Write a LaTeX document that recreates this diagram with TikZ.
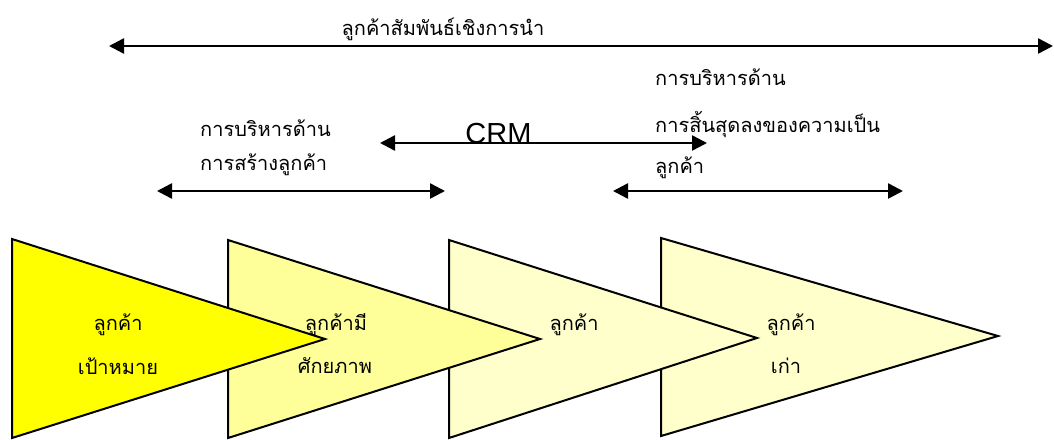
\documentclass[tikz,border=0pt]{standalone}
\usepackage{fontspec}
\setmainfont{Liberation Sans}
\newfontfamily\thaifont[Script=Thai]{Loma}
\usetikzlibrary{arrows.meta}
\definecolor{stageA}{HTML}{FFFF00}
\definecolor{stageB}{HTML}{FFFF99}
\definecolor{stageC}{HTML}{FFFFCC}
\begin{document}
\begin{tikzpicture}[x=1pt,y=-1pt,
  span/.style={line width=2.5pt,
    {Triangle[length=15pt,width=15pt]}-{Triangle[length=15pt,width=15pt]}},
  stage/.style={draw=black, line width=2pt, line join=miter},
  thai/.style={font=\thaifont\fontsize{20}{24}\selectfont, inner sep=0pt},
]
\useasboundingbox (0,0) rectangle (1054,439);

% customer stages, drawn back to front so each tip overlaps the next
\filldraw[stage, fill=stageC] (661,238) -- (998,336) -- (661,436) -- cycle;
\filldraw[stage, fill=stageC] (449,240) -- (757,338) -- (449,438) -- cycle;
\filldraw[stage, fill=stageB] (228,240) -- (540,339) -- (228,438) -- cycle;
\filldraw[stage, fill=stageA] (12,239) -- (325,339) -- (12,438) -- cycle;

\node[thai] (t1a) at (118,325) {ลูกค้า};
\node[thai] (t1b) at (118,366) {เป้าหมาย};
\node[thai] (t2a) at (336,325) {ลูกค้ามี};
\node[thai] (t2b) at (335,366) {ศักยภาพ};
\node[thai] (t3a) at (574,325) {ลูกค้า};
\node[thai] (t4a) at (791,325) {ลูกค้า};
\node[thai] (t4b) at (786,366) {เก่า};

% span arrows
\coordinate (leadL) at (109,46);
\coordinate (leadR) at (1053,46);
\coordinate (crmL) at (380,143);
\coordinate (crmR) at (707,143);
\coordinate (acqL) at (157,191);
\coordinate (acqR) at (445,191);
\coordinate (endL) at (613,191);
\coordinate (endR) at (903,191);

\draw[span] (leadL) -- (leadR);
\draw[span] (crmL) -- (crmR);
\draw[span] (acqL) -- (acqR);
\draw[span] (endL) -- (endR);

% labels of the spans
\node[thai] (lead) at (443,29) {ลูกค้าสัมพันธ์เชิงการนำ};
\node[font=\fontsize{29}{34}\selectfont, inner sep=0pt, anchor=base] (crm) at (498.5,143) {CRM};
\node[thai, anchor=west] (acq1) at (200,128) {การบริหารด้าน};
\node[thai, anchor=west] (acq2) at (200,165) {การสร้างลูกค้า};
\node[thai, anchor=west] (end1) at (655,77) {การบริหารด้าน};
\node[thai, anchor=west] (end2) at (655,125) {การสิ้นสุดลงของความเป็น};
\node[thai, anchor=west] (end3) at (655,168) {ลูกค้า};
\end{tikzpicture}
\end{document}
